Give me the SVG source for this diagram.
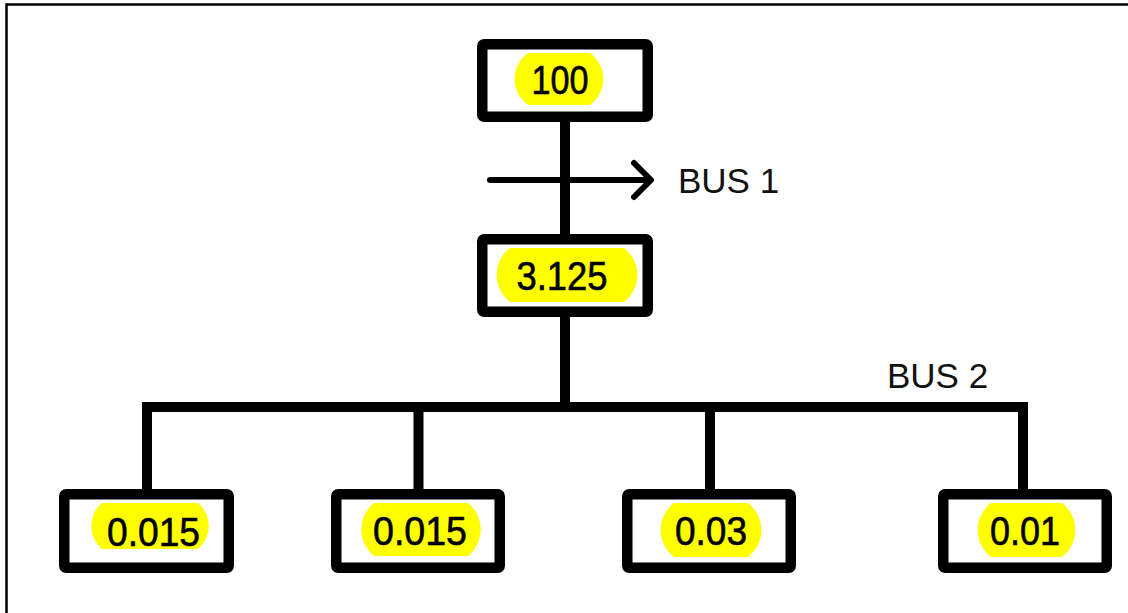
<svg xmlns="http://www.w3.org/2000/svg" width="1128" height="613" viewBox="0 0 1128 613">
  <style>
    .box { fill: #ffffff; stroke: #000000; stroke-width: 10.5; }
    .hl { fill: #ffff00; }
    .val { font-family: "Liberation Sans", Arial, sans-serif; font-size: 40px; fill: #000000; stroke: #000000; stroke-width: 0.6; text-anchor: middle; }
    .lbl { font-family: "Liberation Sans", Arial, sans-serif; font-size: 35px; fill: #111111; }
    .wire { fill: none; stroke: #000000; stroke-width: 10; stroke-linejoin: miter; }
    .arrow { fill: none; stroke: #000000; stroke-width: 6; stroke-linecap: round; stroke-linejoin: round; }
  </style>

  <rect x="0" y="0" width="1128" height="613" fill="#ffffff"/>
  <!-- frame: top and left edges -->
  <path d="M6.5 613 V4.5 H1128" fill="none" stroke="#000000" stroke-width="2.5"/>

  <!-- connectors -->
  <g id="connectors">
    <path class="wire" d="M565 122 V234"/>
    <path class="wire" d="M565 317 V407"/>
    <path class="wire" d="M147 489 V407 H1023 V489"/>
    <path class="wire" d="M418.5 407 V489"/>
    <path class="wire" d="M710 407 V489"/>
    <path class="arrow" d="M490 180 H650"/>
    <path class="arrow" d="M634 163 L651 180 L634 197"/>
    <text class="lbl" x="678" y="193">BUS 1</text>
    <text class="lbl" x="887" y="388">BUS 2</text>
  </g>

  <!-- nodes -->
  <g id="node-100">
    <rect class="box" x="482.25" y="44.25" width="165.5" height="72.5" rx="2"/>
    <path class="hl" d="M528 53 H590 A32 32 0 0 1 590 105 H528 A32 32 0 0 1 528 53 Z"/>
    <text class="val" x="560" y="94" textLength="57" lengthAdjust="spacingAndGlyphs">100</text>
  </g>

  <g id="node-3125">
    <rect class="box" x="482.25" y="239.25" width="165.5" height="72.5" rx="2"/>
    <path class="hl" d="M510 248 H624 A34 34 0 0 1 624 302 H510 A34 34 0 0 1 510 248 Z"/>
    <text class="val" x="562" y="290" textLength="91" lengthAdjust="spacingAndGlyphs">3.125</text>
  </g>

  <g id="node-a">
    <rect class="box" x="64.25" y="494.25" width="164.5" height="73.5" rx="2"/>
    <path class="hl" d="M102 503 H198 A30 30 0 0 1 198 549 H102 A30 30 0 0 1 102 503 Z"/>
    <text class="val" x="153.5" y="546" textLength="93" lengthAdjust="spacingAndGlyphs">0.015</text>
  </g>

  <g id="node-b">
    <rect class="box" x="336.25" y="494.25" width="163.5" height="73.5" rx="2"/>
    <path class="hl" d="M374 503 H468 A34 34 0 0 1 468 556 H374 A34 34 0 0 1 374 503 Z"/>
    <text class="val" x="420" y="545" textLength="94" lengthAdjust="spacingAndGlyphs">0.015</text>
  </g>

  <g id="node-c">
    <rect class="box" x="627.25" y="494.25" width="163.5" height="73.5" rx="2"/>
    <path class="hl" d="M674 503 H748 A34 34 0 0 1 748 557 H674 A34 34 0 0 1 674 503 Z"/>
    <text class="val" x="711" y="545" textLength="72" lengthAdjust="spacingAndGlyphs">0.03</text>
  </g>

  <g id="node-d">
    <rect class="box" x="943.25" y="494.25" width="163.5" height="73.5" rx="2"/>
    <path class="hl" d="M991 503 H1062 A34 34 0 0 1 1062 557 H991 A34 34 0 0 1 991 503 Z"/>
    <text class="val" x="1025" y="545" textLength="70" lengthAdjust="spacingAndGlyphs">0.01</text>
  </g>
</svg>
